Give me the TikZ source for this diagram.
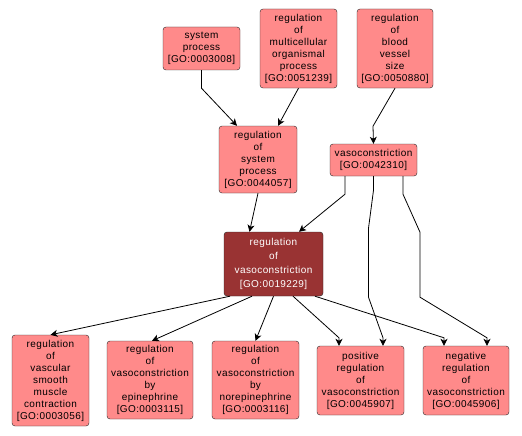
\documentclass[tikz,border=0pt]{standalone}
\usepackage{fontspec}
\setmainfont{Liberation Sans}[LetterSpace=4]
\usetikzlibrary{arrows.meta}

\definecolor{goterm}{HTML}{FF8A8A}
\definecolor{goself}{HTML}{993333}

\tikzset{
  term/.style={draw=black!85, fill=goterm, rounded corners=3pt, align=center,
    inner sep=0pt, font=\fontsize{10}{12}\selectfont},
  selfterm/.style={term, fill=goself, text=white, font=\fontsize{10}{13.8}\selectfont},
  edge/.style={draw=black, line width=0.8pt, -{Stealth[length=7pt,width=7pt,inset=2pt]}}
}

\begin{document}
\begin{tikzpicture}[x=1pt,y=-1pt]
  \useasboundingbox (0,0) rectangle (522,436);

  % obere Ebene
  \node[term, minimum width=77pt, minimum height=43pt] (sysproc) at (201.5,48.5)
    {system\\process\\{[GO:0003008]}};
  \node[term, minimum width=77pt, minimum height=79pt] (multi) at (298.5,48.5)
    {regulation\\of\\multicellular\\organismal\\process\\{[GO:0051239]}};
  \node[term, minimum width=76pt, minimum height=79pt] (blood) at (395,48.5)
    {regulation\\of\\blood\\vessel\\size\\{[GO:0050880]}};

  % mittlere Ebene
  \node[term, minimum width=78pt, minimum height=67pt] (regsys) at (258,159.5)
    {regulation\\of\\system\\process\\{[GO:0044057]}};
  \node[term, minimum width=87pt, minimum height=32pt] (vaso) at (373.5,160)
    {vasoconstriction\\{[GO:0042310]}};

  % Hauptterm
  \node[selfterm, minimum width=99pt, minimum height=64pt] (regvaso) at (273.5,264)
    {regulation\\of\\vasoconstriction\\{[GO:0019229]}};

  % untere Ebene
  \node[term, minimum width=77pt, minimum height=91pt] (vsm) at (50.5,380.5)
    {regulation\\of\\vascular\\smooth\\muscle\\contraction\\{[GO:0003056]}};
  \node[term, minimum width=86pt, minimum height=78pt] (epi) at (150,380)
    {regulation\\of\\vasoconstriction\\by\\epinephrine\\{[GO:0003115]}};
  \node[term, minimum width=87pt, minimum height=78pt] (norepi) at (255.5,380)
    {regulation\\of\\vasoconstriction\\by\\norepinephrine\\{[GO:0003116]}};
  \node[term, minimum width=87pt, minimum height=69pt] (pos) at (360.5,380.5)
    {positive\\regulation\\of\\vasoconstriction\\{[GO:0045907]}};
  \node[term, minimum width=86pt, minimum height=69pt] (neg) at (466,380.5)
    {negative\\regulation\\of\\vasoconstriction\\{[GO:0045906]}};

  % Kanten oben
  \draw[edge] (sysproc.south) -- ++(0,18) -- ([xshift=-21pt]regsys.north);
  \draw[edge] (multi.south) -- ([xshift=20pt]regsys.north);
  \draw[edge] (blood.south) -- ++(-22,38) -- (vaso.north);

  % Kanten zum Hauptterm
  \draw[edge] (regsys.south) -- ([xshift=-24pt]regvaso.north);
  \draw[edge] ([xshift=-28.5pt]vaso.south) -- ++(0,18) -- ([xshift=25.5pt]regvaso.north);

  % Kanten von vasoconstriction nach unten
  \draw[edge] (vaso.south) -- ++(0,14) -- ++(-5,38) -- ++(0,69)
    -- ([xshift=22.5pt,yshift=8pt]pos.north) -- ([xshift=22.5pt]pos.north);
  \draw[edge] ([xshift=29.5pt]vaso.south) -- ++(0,18) -- ++(17,38) -- ++(0,65)
    -- ([xshift=21pt,yshift=8pt]neg.north) -- ([xshift=21pt]neg.north);

  % Kanten vom Hauptterm
  \draw[edge] ([xshift=-43.5pt]regvaso.south) -- (vsm.north);
  \draw[edge] ([xshift=-21.5pt]regvaso.south) -- ([xshift=2pt]epi.north);
  \draw[edge] (regvaso.south) -- (norepi.north);
  \draw[edge] ([xshift=19.5pt]regvaso.south) -- ([xshift=-21.5pt,yshift=8pt]pos.north)
    -- ([xshift=-21.5pt]pos.north);
  \draw[edge] ([xshift=41.5pt]regvaso.south) -- ([xshift=-22pt,yshift=8pt]neg.north)
    -- ([xshift=-22pt]neg.north);
\end{tikzpicture}
\end{document}
